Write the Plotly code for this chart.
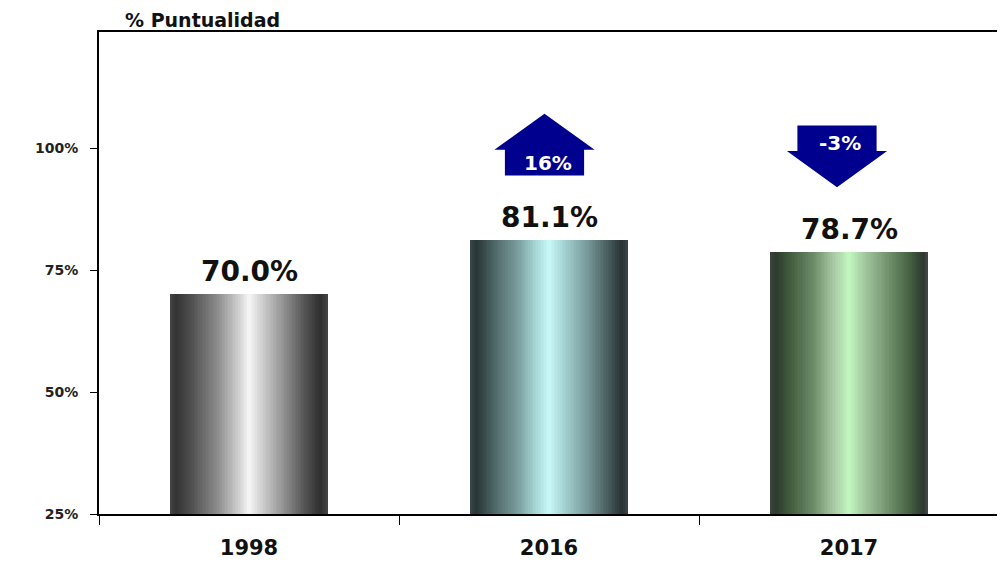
import plotly.graph_objects as go

# ---- data ----
years = ["1998", "2016", "2017"]
values = [70.0, 81.1, 78.7]
value_labels = ["70.0%", "81.1%", "78.7%"]
change_labels = ["", "16%", "-3%"]
y_ticks = [25, 50, 75, 100]
y_tick_labels = ["25%", "50%", "75%", "100%"]
title_text = "% Puntualidad"

# ---- styles ----
gradients = [
    [(0.0, "#444444"), (0.04, "#333333"), (0.15, "#555555"), (0.3, "#8c8c8c"),
     (0.42, "#c8c8c8"), (0.5, "#f6f6f6"), (0.58, "#d0d0d0"), (0.7, "#9a9a9a"),
     (0.85, "#555555"), (0.95, "#2f2f2f"), (1.0, "#444444")],
    [(0.0, "#37474a"), (0.04, "#283536"), (0.15, "#4d6566"), (0.3, "#7a9c9c"),
     (0.42, "#a8d8d8"), (0.5, "#c8f8f8"), (0.6, "#a4d0d0"), (0.75, "#759696"),
     (0.88, "#45595a"), (0.96, "#283234"), (1.0, "#37444a")],
    [(0.0, "#3a443a"), (0.04, "#2f3a2f"), (0.12, "#3f5a3c"), (0.27, "#6a8a66"),
     (0.4, "#a8c8a4"), (0.5, "#c2f8c0"), (0.62, "#9cbf98"), (0.77, "#6a8a66"),
     (0.9, "#3f5a3c"), (0.97, "#2f3530"), (1.0, "#444a44")],
]
bar_width = 0.527
n_slices = 100
arrow_color = "#00008f"

# page body has an 8px default margin; size the figure so it fits the window
PAGE_OFF = 8
FIG_W, FIG_H = 1005 - PAGE_OFF, 563 - PAGE_OFF
M_L, M_T = 99 - PAGE_OFF, 32 - PAGE_OFF
PLOT_W, PLOT_H = 900, 482
M_R = FIG_W - M_L - PLOT_W
M_B = FIG_H - M_T - PLOT_H


def hex2rgb(h):
    h = h.lstrip("#")
    return tuple(int(h[i:i + 2], 16) for i in (0, 2, 4))


def interp(stops, t):
    for (t0, c0), (t1, c1) in zip(stops[:-1], stops[1:]):
        if t0 <= t <= t1:
            f = 0 if t1 == t0 else (t - t0) / (t1 - t0)
            a, b = hex2rgb(c0), hex2rgb(c1)
            return "rgb(%d,%d,%d)" % tuple(round(a[k] + (b[k] - a[k]) * f) for k in range(3))
    return stops[-1][1]


fig = go.Figure()
xs = list(range(len(years)))
sw = bar_width / n_slices
for k in range(n_slices):
    t = (k + 0.5) / n_slices
    last = k == n_slices - 1
    fig.add_trace(go.Bar(
        x=xs, y=values,
        width=sw * (1.0 if last else 2.0),
        offset=-bar_width / 2 + k * sw,
        marker=dict(color=[interp(g, t) for g in gradients], line=dict(width=0)),
        hoverinfo="skip", showlegend=False,
    ))

annotations = []
for i, (v, lab) in enumerate(zip(values, value_labels)):
    annotations.append(dict(
        x=i, y=v, xref="x", yref="y", text=lab, showarrow=False,
        yanchor="bottom", yshift=4,
        font=dict(family="DejaVu Sans", size=28, color="#111111", weight="bold"),
    ))

shapes = []
for i in range(1, len(values)):
    if not change_labels[i]:
        continue
    v = values[i]
    up = values[i] >= values[i - 1]
    head_h, body_h, gap = 7.4, 5.25, 13.3
    hw, bw = 0.167, 0.132
    if up:
        cx = i - 0.015
        bottom = v + gap
        shoulder = bottom + body_h
        tip = shoulder + head_h
        pts = [(cx - bw, bottom), (cx + bw, bottom), (cx + bw, shoulder), (cx + hw, shoulder),
               (cx, tip), (cx - hw, shoulder), (cx - bw, shoulder)]
        ty = (bottom + shoulder) / 2
    else:
        cx = i - 0.04
        tip = v + gap
        shoulder = tip + head_h
        top = shoulder + body_h
        pts = [(cx - bw, top), (cx + bw, top), (cx + bw, shoulder), (cx + hw, shoulder),
               (cx, tip), (cx - hw, shoulder), (cx - bw, shoulder)]
        ty = (shoulder + top) / 2 - 0.9
    path = "M " + " L ".join("%f,%f" % p for p in pts) + " Z"
    shapes.append(dict(type="path", path=path, xref="x", yref="y",
                       fillcolor=arrow_color, line=dict(width=0), layer="above"))
    annotations.append(dict(
        x=cx + 0.01, y=ty, xref="x", yref="y", text=change_labels[i], showarrow=False,
        font=dict(family="DejaVu Sans", size=20, color="white", weight="bold"),
    ))

annotations.append(dict(
    x=(123 - 99) / PLOT_W, y=1, xref="paper", yref="paper", text=title_text,
    showarrow=False, xanchor="left", yanchor="middle", yshift=12,
    font=dict(family="DejaVu Sans", size=19, color="#111111", weight="bold"),
))

fig.update_layout(
    width=FIG_W, height=FIG_H,
    margin=dict(l=M_L, r=M_R, t=M_T, b=M_B, autoexpand=False),
    paper_bgcolor="white", plot_bgcolor="white",
    barmode="overlay", bargap=0,
    showlegend=False,
    annotations=annotations, shapes=shapes,
    xaxis=dict(
        range=[-0.5, 2.5], tickmode="array", tickvals=xs, ticktext=years,
        ticks="", showgrid=False, zeroline=False, automargin=False,
        showline=True, linecolor="black", linewidth=2, mirror=True,
        tickfont=dict(family="DejaVu Sans", size=21, color="#111111", weight="bold"),
        ticklabelstandoff=14,
        minor=dict(tickmode="array", tickvals=[-0.5, 0.5, 1.5, 2.5], ticks="outside",
                   ticklen=9, tickcolor="black", tickwidth=1, showgrid=False),
    ),
    yaxis=dict(
        range=[25, 123.8], tickmode="array", tickvals=y_ticks, ticktext=y_tick_labels,
        ticks="outside", ticklen=7, tickcolor="black", tickwidth=1,
        showgrid=False, zeroline=False, automargin=False,
        showline=True, linecolor="black", linewidth=2, mirror=True,
        tickfont=dict(family="DejaVu Sans", size=14, color="#222222", weight="bold"),
        ticklabelstandoff=9,
    ),
)

fig.write_html("out.html")
